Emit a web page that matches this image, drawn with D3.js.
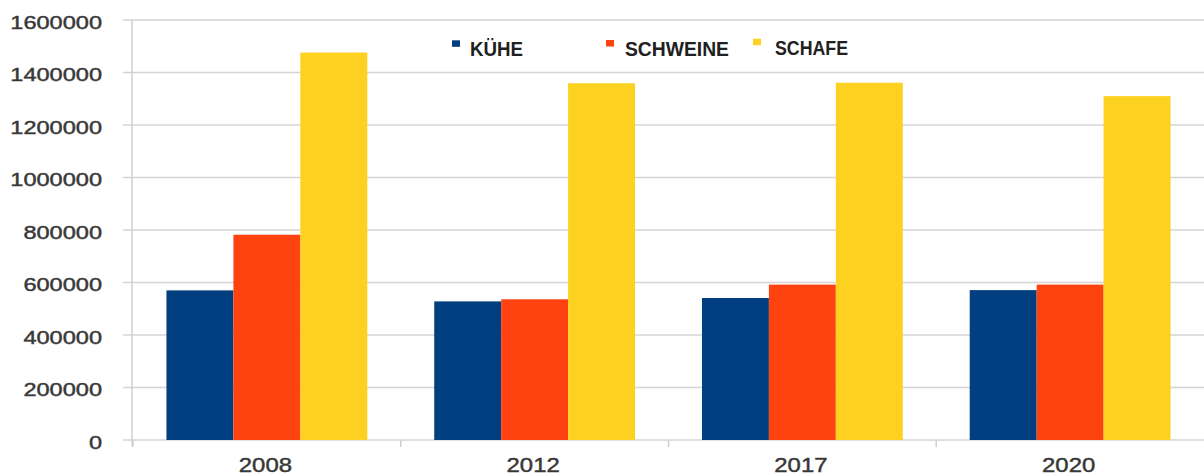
<!DOCTYPE html>
<html>
<head>
<meta charset="utf-8">
<script src="https://cdn.jsdelivr.net/npm/d3@7"></script>
<style>
  html, body { margin: 0; padding: 0; background: #fff; }
  svg { display: block; }
</style>
</head>
<body>
<svg id="chart" width="1204" height="476"></svg>
<script>
// ---- data ----
const years = ["2008", "2012", "2017", "2020"];
const seriesNames = ["KÜHE", "SCHWEINE", "SCHAFE"];
const kuehe    = [570000, 528000, 541000, 571000];
const schweine = [782000, 536000, 592000, 592000];
const schafe   = [1476000, 1359000, 1361000, 1310000];
const yTicks = [0, 200000, 400000, 600000, 800000, 1000000, 1200000, 1400000, 1600000];
const seriesColors = ["#023f80", "#fe4310", "#fdd120"];

const seriesValues = [kuehe, schweine, schafe];

// ---- layout ----
const W = 1204, H = 476;
const axisX = 132;
const plotTop = 20, plotBottom = 440;

const svg = d3.select("#chart");

const x0 = d3.scaleBand().domain(years).range([133, W])
  .paddingInner(0.25).paddingOuter(0.125);
const x1 = d3.scaleBand().domain(seriesNames).range([0, x0.bandwidth()]).padding(0);
const y = d3.scaleLinear().domain([0, 1600000]).range([plotBottom, plotTop]);
const color = d3.scaleOrdinal().domain(seriesNames).range(seriesColors);

// gridlines
svg.append("g")
  .selectAll("line").data(yTicks).join("line")
  .attr("x1", axisX - 9).attr("x2", W)
  .attr("y1", d => y(d)).attr("y2", d => y(d))
  .attr("stroke", "#d4d4d4").attr("stroke-width", 1.5);

// y axis line
svg.append("line")
  .attr("x1", axisX).attr("x2", axisX)
  .attr("y1", plotTop).attr("y2", plotBottom + 6)
  .attr("stroke", "#cfcfcf").attr("stroke-width", 1.5);

const labelStyle = sel => sel
  .attr("font-family", "'Liberation Sans', Arial, sans-serif")
  .attr("font-weight", "normal")
  .attr("fill", "#383838")
  .attr("stroke", "#383838")
  .attr("stroke-width", 0.45)
  .attr("lengthAdjust", "spacingAndGlyphs");

// y labels via axis
const yAxis = svg.append("g")
  .attr("transform", `translate(102,0)`)
  .call(d3.axisLeft(y).tickValues(yTicks).tickFormat(d3.format("d")).tickSize(0).tickPadding(0));
yAxis.select(".domain").remove();
yAxis.selectAll("text")
  .call(labelStyle)
  .attr("font-size", 19)
  .attr("dy", "0.43em")
  .attr("textLength", function() { return this.textContent.length * 13.1; });

// x axis
const xAxis = svg.append("g")
  .attr("transform", `translate(0,${plotBottom})`)
  .call(d3.axisBottom(x0).tickSize(0).tickPadding(0));
xAxis.select(".domain").remove();
xAxis.selectAll("text")
  .call(labelStyle)
  .attr("font-size", 20.5)
  .attr("dy", 0).attr("y", 31.5)
  .attr("dx", -1.5)
  .attr("textLength", function() { return this.textContent.length * 13.3; });

// x category boundary ticks
const bounds = years.map(yr => x0(yr) - x0.step() * x0.paddingInner() / 2);
svg.append("g").selectAll("line").data(bounds).join("line")
  .attr("x1", d => d).attr("x2", d => d)
  .attr("y1", plotBottom).attr("y2", plotBottom + 7)
  .attr("stroke", "#cfcfcf").attr("stroke-width", 1.5);

// bars
const groups = svg.append("g").selectAll("g").data(years).join("g")
  .attr("transform", d => `translate(${x0(d)},0)`);
groups.selectAll("rect")
  .data((yr, i) => seriesNames.map((s, k) => ({ s, v: seriesValues[k][i] })))
  .join("rect")
  .attr("x", d => x1(d.s))
  .attr("width", x1.bandwidth())
  .attr("y", d => y(d.v))
  .attr("height", d => y(0) - y(d.v))
  .attr("fill", d => color(d.s));

// legend
const legendX = [452, 606, 753];
const legendY = [56.3, 56, 54.7];
const legendTextLen = [53, 104, 73];
const leg = svg.append("g").selectAll("g").data(seriesNames).join("g")
  .attr("transform", (d, i) => `translate(${legendX[i]},${legendY[i]})`);
leg.append("rect")
  .attr("x", 0).attr("y", -16).attr("width", 8).attr("height", 6.5)
  .attr("fill", d => color(d));
leg.append("text")
  .attr("x", (d, i) => [18, 19, 22][i]).attr("y", 0)
  .attr("font-family", "'Liberation Sans', Arial, sans-serif")
  .attr("font-weight", "bold")
  .attr("font-size", 21)
  .attr("fill", "#202020")
  .attr("textLength", (d, i) => legendTextLen[i])
  .attr("lengthAdjust", "spacingAndGlyphs")
  .text(d => d);
</script>
</body>
</html>
